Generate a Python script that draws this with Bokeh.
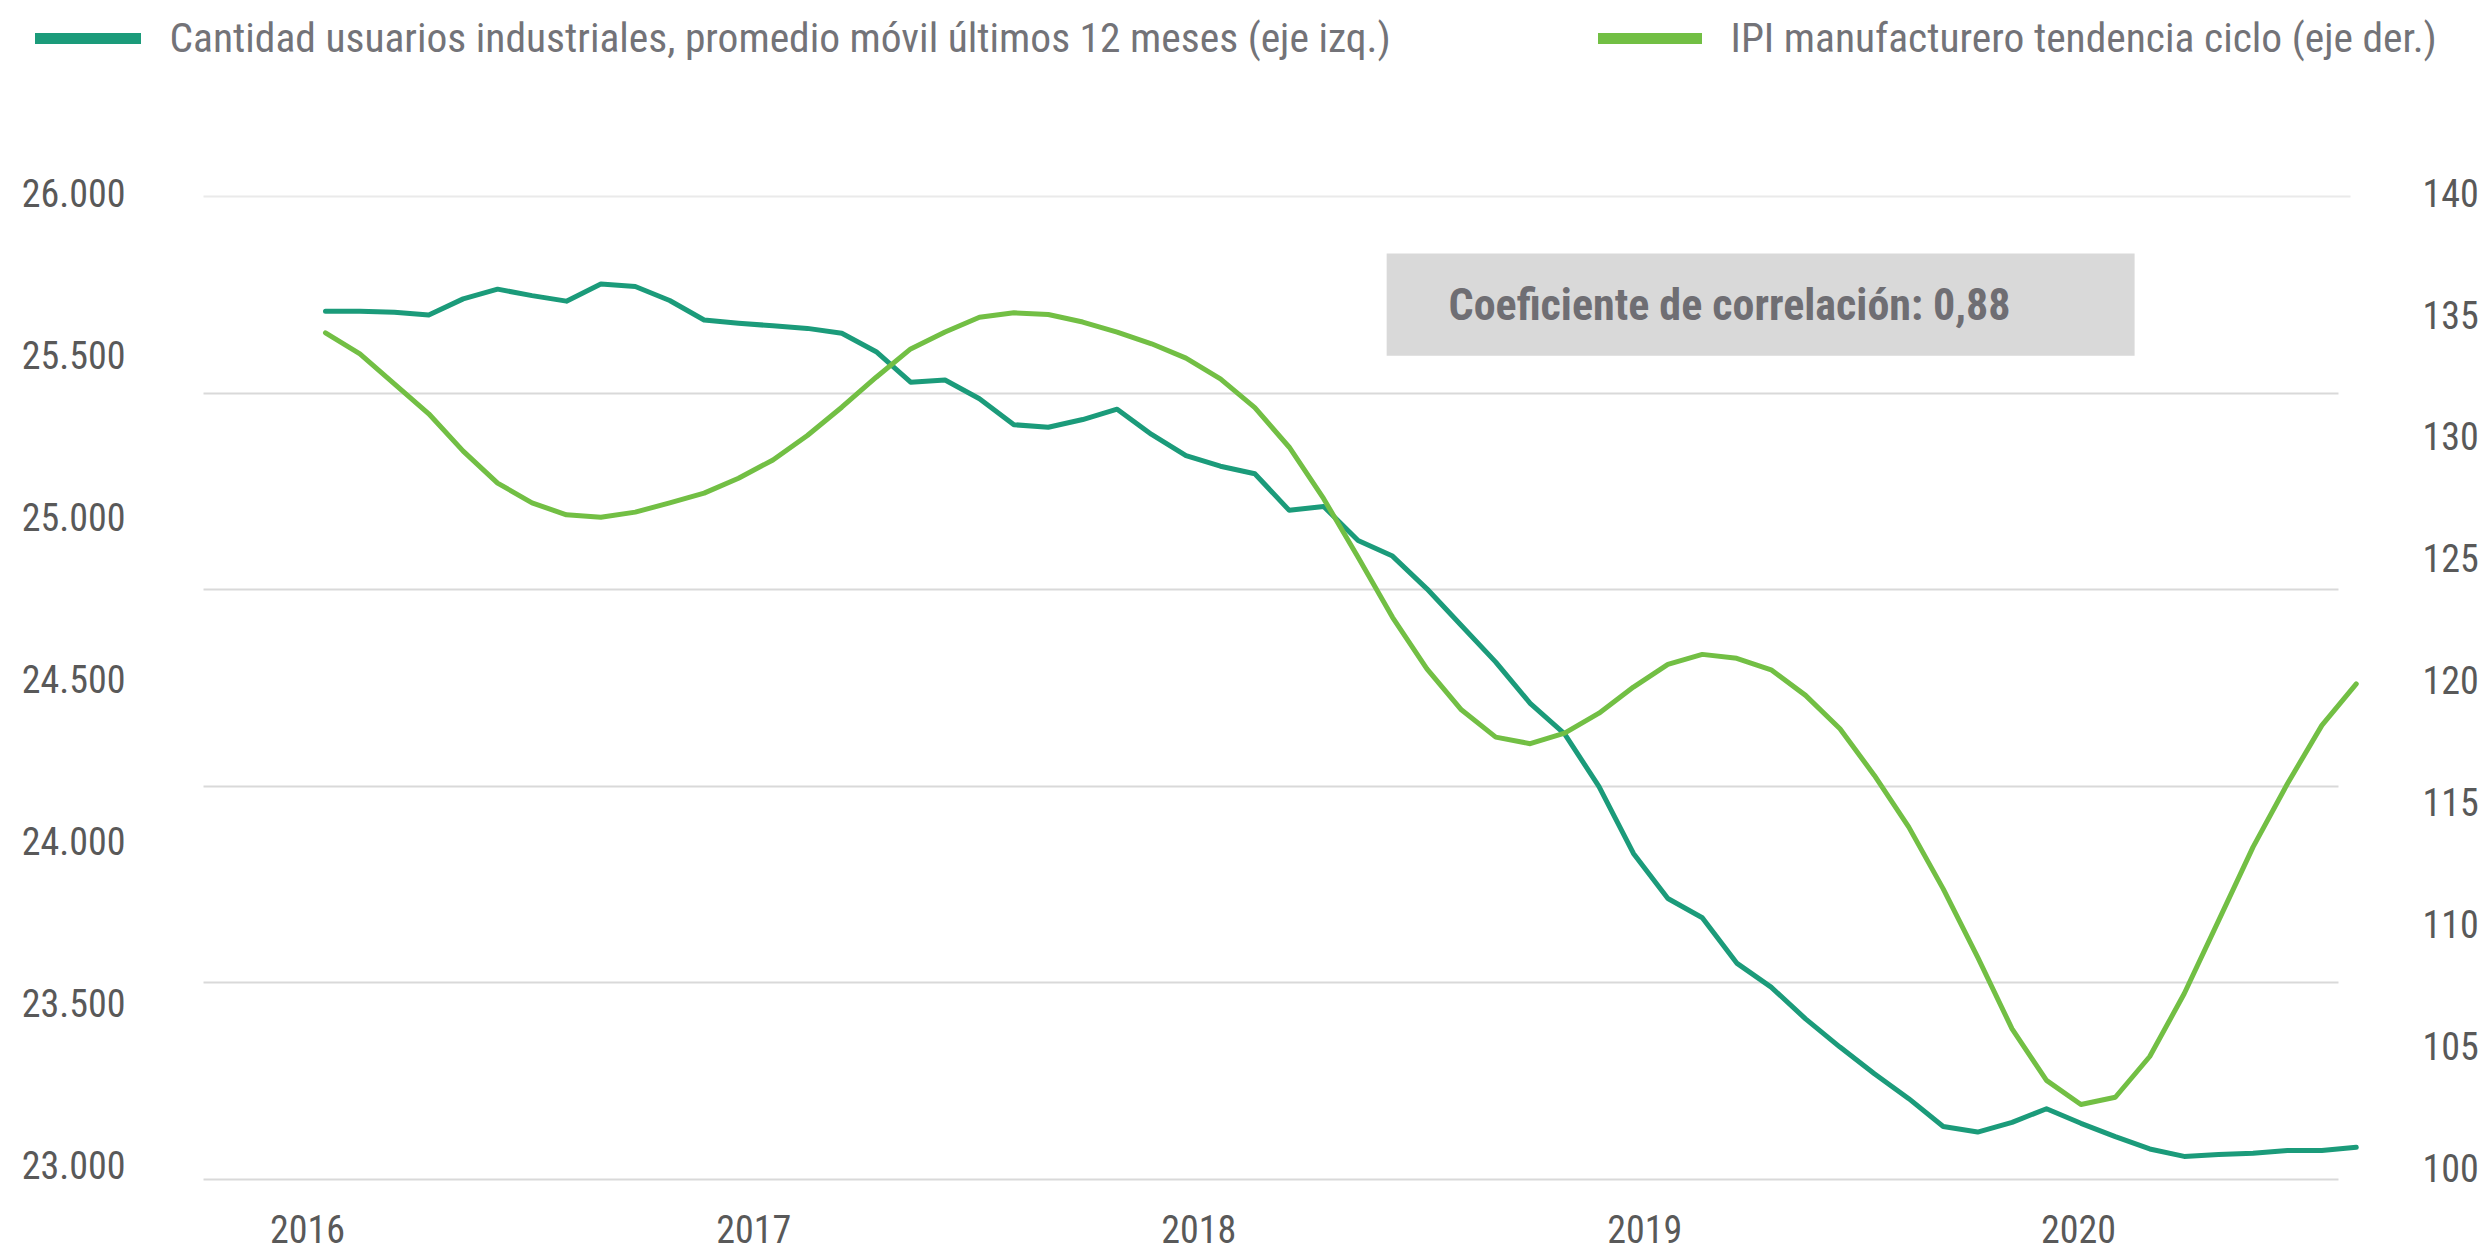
from bokeh.plotting import figure
from bokeh.models import (Range1d, LinearAxis, FixedTicker, Grid, Legend, LegendItem,
                          BoxAnnotation, Label, ColumnDataSource)
from bokeh.core.properties import value
from bokeh.embed import file_html
from bokeh.resources import INLINE

# ---------------- data ----------------
usuarios = [25634, 25634, 25631, 25622, 25672, 25702, 25682, 25665, 25718, 25710,
            25667, 25607, 25597, 25589, 25581, 25566, 25509, 25415, 25422, 25364,
            25284, 25276, 25300, 25332, 25254, 25189, 25156, 25133, 25020, 25032,
            24927, 24879, 24778, 24665, 24552, 24425, 24331, 24168, 23962, 23823,
            23764, 23624, 23550, 23452, 23365, 23283, 23206, 23120, 23103, 23133,
            23175, 23130, 23089, 23051, 23028, 23034, 23038, 23046, 23046, 23056]

ipi = [134.25, 133.39, 132.16, 130.93, 129.40, 128.09, 127.28, 126.79, 126.69, 126.90,
       127.28, 127.68, 128.29, 129.04, 130.04, 131.20, 132.43, 133.59, 134.28, 134.89,
       135.07, 135.00, 134.69, 134.28, 133.80, 133.21, 132.36, 131.18, 129.56, 127.45,
       125.05, 122.59, 120.48, 118.80, 117.68, 117.41, 117.84, 118.66, 119.73, 120.66,
       121.07, 120.91, 120.44, 119.39, 118.02, 116.11, 113.99, 111.46, 108.66, 105.72,
       103.61, 102.62, 102.92, 104.59, 107.16, 110.16, 113.17, 115.77, 118.16, 119.86]

idx = list(range(len(usuarios)))

year_labels = ["2016", "2017", "2018", "2019", "2020"]
year_pos = [-0.52, 12.44, 25.37, 38.33, 50.93]

usr_ticks = [23000, 23500, 24000, 24500, 25000, 25500, 26000]
usr_labels = ["23.000", "23.500", "24.000", "24.500", "25.000", "25.500", "26.000"]

ipi_ticks = [100, 105, 110, 115, 120, 125, 130, 135, 140]
ipi_labels = ["100", "105", "110", "115", "120", "125", "130", "135", "140"]

grid_ticks = [0, 1, 2, 3, 4]
grid_top = [5]

serie1 = "Cantidad usuarios industriales, promedio móvil últimos 12 meses (eje izq.)"
serie2 = "IPI manufacturero tendencia ciclo (eje der.)"
nota = "Coeficiente de correlación: 0,88"

# ---------------- style / layout ----------------
FONT = "'Roboto Condensed', Roboto"
DARK = "#1B9B7A"
LIGHT = "#72BF44"
TICK_COLOR = "#595959"
LEG_COLOR = "#737378"

X_LEFT, X_RIGHT = -3.544, 59.15          # plot-area edges (index units)
X_GRID_END, X_GRID_TOP_END = 58.48, 58.83
Y_BOTTOM = 22956.8                        # bottom of plot area (left axis units)

p = figure(width=2491, height=1253, output_backend="svg", toolbar_location=None,
           x_range=Range1d(-9.442, 62.929), y_range=Range1d(22728.6, 26592.0),
           min_border=0, min_border_left=0, min_border_right=0,
           min_border_top=0, min_border_bottom=0)
p.outline_line_color = None
p.extra_y_ranges = {"ipi": Range1d(96.516, 147.869), "grid": Range1d(-0.376, 5.997)}
p.xgrid.visible = False
p.ygrid.visible = False

p.add_layout(Grid(dimension=1, ticker=FixedTicker(ticks=grid_ticks), y_range_name="grid",
                  cross_bounds=(X_LEFT, X_GRID_END),
                  grid_line_color="#D9D9D9", grid_line_width=2))
p.add_layout(Grid(dimension=1, ticker=FixedTicker(ticks=grid_top), y_range_name="grid",
                  cross_bounds=(X_LEFT, X_GRID_TOP_END),
                  grid_line_color="#EAEAEA", grid_line_width=2))

def style_axis(ax, standoff):
    ax.axis_line_color = None
    ax.major_tick_line_color = None
    ax.minor_tick_line_color = None
    ax.major_tick_out = 0
    ax.major_tick_in = 0
    ax.major_label_text_font = FONT
    ax.major_label_text_font_size = "38px"
    ax.major_label_text_color = TICK_COLOR
    ax.major_label_standoff = standoff

yl = p.yaxis[0]
yl.ticker = FixedTicker(ticks=usr_ticks)
yl.major_label_overrides = dict(zip(usr_ticks, usr_labels))
yl.fixed_location = X_LEFT
style_axis(yl, 78)

xb = p.xaxis[0]
xb.ticker = FixedTicker(ticks=year_pos)
xb.major_label_overrides = dict(zip(year_pos, year_labels))
xb.fixed_location = Y_BOTTOM
style_axis(xb, 36)

yr = LinearAxis(y_range_name="ipi", ticker=FixedTicker(ticks=ipi_ticks),
                fixed_location=X_RIGHT)
yr.major_label_overrides = dict(zip(ipi_ticks, ipi_labels))
style_axis(yr, 61)
p.add_layout(yr, "right")

src = ColumnDataSource(dict(idx=idx, usuarios=usuarios, ipi=ipi))
p.line("idx", "usuarios", source=src, line_color=DARK, line_width=5,
       line_join="round", line_cap="round")
p.line("idx", "ipi", source=src, y_range_name="ipi", line_color=LIGHT, line_width=5,
       line_join="round", line_cap="round")

# legend proxies (thicker swatches, no visible data)
nan = float("nan")
sw1 = p.line(x=[nan], y=[nan], line_color=DARK, line_width=11, line_cap="round")
sw2 = p.line(x=[nan], y=[nan], line_color=LIGHT, line_width=11, line_cap="round")

def make_legend(label, rend, loc, gw):
    return Legend(items=[LegendItem(label=value(label), renderers=[rend])],
                  location=loc, orientation="horizontal", padding=0, margin=0,
                  spacing=0, border_line_color=None, background_fill_alpha=0,
                  glyph_width=gw, glyph_height=40, label_height=40,
                  label_standoff=29, label_text_font=FONT,
                  label_text_font_size="41.5px", label_text_color=LEG_COLOR)

p.add_layout(make_legend(serie1, sw1, (34.5, 1191), 106))
p.add_layout(make_legend(serie2, sw2, (1597.5, 1191), 104))

# annotation
p.add_layout(BoxAnnotation(left=30.83, right=52.56, bottom=25497, top=25812,
                           fill_color="#D9D9D9", fill_alpha=1, line_color=None))
p.add_layout(Label(x=32.63, y=25652, text=nota, text_font=FONT, text_font_size="44px",
                   text_font_style="bold", text_color="#6F6E73",
                   text_baseline="middle", text_align="left"))

open("out.html", "w").write(file_html(p, INLINE))
